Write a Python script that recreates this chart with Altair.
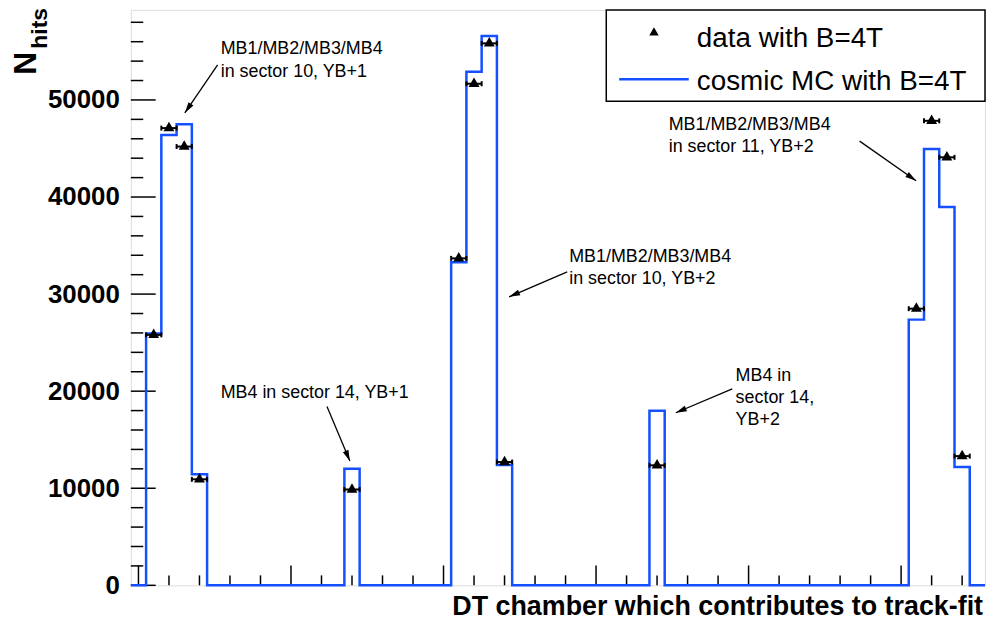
import math
import altair as alt
import pandas as pd

# ---------------- data ----------------
mc_bins = [1, 2, 3, 4, 14, 21, 22, 23, 24, 34, 51, 52, 53, 54]
mc_counts = [25950, 46400, 47500, 11430, 12020, 33270, 52900, 56580, 12400, 17990,
             27370, 44940, 38970, 12180]
data_bins = [1, 2, 3, 4, 14, 21, 22, 23, 24, 34, 51, 52, 53, 54]
data_counts = [25800, 47100, 45200, 10920, 9870, 33680, 51670, 55830, 12700, 12360,
               28500, 47850, 44090, 13310]
n_bins = 56
x_range = [-0.5, 55.5]
y_max = 59275

y_major_ticks = [0, 10000, 20000, 30000, 40000, 50000]
y_minor_ticks = [v for v in range(2000, 58001, 2000) if v % 10000]
x_major_ticks = [0, 10, 20, 30, 40, 50]
x_minor_ticks = [v for v in range(2, 55, 2) if v % 10]

x_title = "DT chamber which contributes to track-fit"
y_title_main = "N"
y_title_sub = "hits"
legend_labels = ["data with B=4T", "cosmic MC with B=4T"]

annot_texts = ["MB1/MB2/MB3/MB4\nin sector 10, YB+1",
               "MB4 in sector 14, YB+1",
               "MB1/MB2/MB3/MB4\nin sector 10, YB+2",
               "MB4 in\nsector 14,\nYB+2",
               "MB1/MB2/MB3/MB4\nin sector 11, YB+2"]
annot_x = [5.39, 5.39, 28.24, 39.15, 34.76]
annot_y = [54700, 19320, 33300, 21090, 46940]
arrow_x1 = [5.19, 12.36, 28.11, 38.93, 47.28]
arrow_y1 = [53610, 18430, 32280, 20240, 45760]
arrow_x2 = [3.04, 13.86, 24.30, 35.23, 50.98]
arrow_y2 = [48660, 12800, 29720, 17780, 41670]

# ---------------- layout / style ----------------
W, H = 859.5, 579
FONT = "Liberation Sans"
BLUE = "#1450ff"
PXX = W / (x_range[1] - x_range[0])
PXY = H / y_max

xs = alt.Scale(domain=x_range, nice=False, zero=False)
ys = alt.Scale(domain=[0, y_max], nice=False, zero=False)
yaxis = alt.Axis(values=y_major_ticks, format="d", labelFont=FONT, labelFontSize=26,
                 labelFontWeight="bold", labelColor="black", labelPadding=11.6,
                 ticks=False, tickSize=0, domain=False, grid=False, title="")


def X(f):
    return alt.X(f, type="quantitative", scale=xs, axis=None)


def Y(f):
    return alt.Y(f, type="quantitative", scale=ys, axis=yaxis, title="")


# MC histogram outline
counts = [0] * n_bins
for b, c in zip(mc_bins, mc_counts):
    counts[b] = c
step_rows = []
for i in range(n_bins):
    step_rows.append({"i": 2 * i, "x": i - 0.5, "y": counts[i]})
    step_rows.append({"i": 2 * i + 1, "x": i + 0.5, "y": counts[i]})
step_df = pd.DataFrame(step_rows)

mc_line = alt.Chart(step_df).mark_line(color=BLUE, strokeWidth=2.5, strokeJoin="miter").encode(
    x=X("x"), y=Y("y"), order=alt.Order("i:Q"))

# data points
pts_df = pd.DataFrame({"x": data_bins, "y": data_counts})
pts_df["lo"] = pts_df["x"] - 0.5
pts_df["hi"] = pts_df["x"] + 0.5
caps_df = pd.DataFrame({"x": list(pts_df["lo"]) + list(pts_df["hi"]),
                        "y": list(pts_df["y"]) * 2})

err = alt.Chart(pts_df).mark_rule(color="black", strokeWidth=2).encode(
    x=X("lo"), x2="hi", y=Y("y"))
caps = alt.Chart(caps_df).mark_point(shape="M0,-1L0,1", size=25, strokeWidth=2,
                                     filled=False, color="black", opacity=1).encode(
    x=X("x"), y=Y("y"))
tri = alt.Chart(pts_df).mark_point(shape="triangle", size=120, filled=True,
                                   color="black", opacity=1).encode(x=X("x"), y=Y("y"))

# inward ticks
ymaj = alt.Chart(pd.DataFrame({"y": y_major_ticks})).mark_rule(color="black", strokeWidth=1.5).encode(
    y=Y("y"), x=alt.value(0), x2=alt.value(25))
ymin = alt.Chart(pd.DataFrame({"y": y_minor_ticks})).mark_rule(color="black", strokeWidth=1.5).encode(
    y=Y("y"), x=alt.value(0), x2=alt.value(12.5))
xmaj = alt.Chart(pd.DataFrame({"x": x_major_ticks})).mark_rule(color="black", strokeWidth=1.5).encode(
    x=X("x"), y=alt.value(H), y2=alt.value(H - 20))
xmin = alt.Chart(pd.DataFrame({"x": x_minor_ticks})).mark_rule(color="black", strokeWidth=1.5).encode(
    x=X("x"), y=alt.value(H), y2=alt.value(H - 10))

# annotations
ann_df = pd.DataFrame({"t": annot_texts, "x": annot_x, "y": annot_y})
ann = alt.Chart(ann_df).mark_text(align="left", baseline="alphabetic", lineBreak="\n",
                                  lineHeight=22.5, font=FONT, fontSize=18, color="black").encode(
    x=X("x"), y=Y("y"), text="t:N")

arr_df = pd.DataFrame({"x1": arrow_x1, "y1": arrow_y1, "x2": arrow_x2, "y2": arrow_y2})
arr_df["ang"] = [
    math.degrees(math.atan2((bx - ax) * PXX, (by - ay) * PXY)) % 360
    for ax, ay, bx, by in zip(arrow_x1, arrow_y1, arrow_x2, arrow_y2)
]
arr_lines = alt.Chart(arr_df).mark_rule(color="black", strokeWidth=1.3).encode(
    x=X("x1"), y=Y("y1"), x2="x2", y2="y2")
arr_heads = alt.Chart(arr_df).mark_point(shape="M0,0L-0.55,2L0.55,2Z", size=121, filled=True,
                                         color="black", opacity=1).encode(
    x=X("x2"), y=Y("y2"), angle=alt.Angle("ang:Q", scale=None))

# legend
one = pd.DataFrame({"a": [0]})
leg_box = alt.Chart(one).mark_rect(fill="white", stroke="black", strokeWidth=1.5).encode(
    x=alt.value(478.4), x2=alt.value(W), y=alt.value(0), y2=alt.value(92))
leg_tri = alt.Chart(one).mark_point(shape="triangle", size=90, filled=True, color="black",
                                    opacity=1).encode(x=alt.value(526.4), y=alt.value(23))
leg_line = alt.Chart(one).mark_rule(color=BLUE, strokeWidth=2.5).encode(
    x=alt.value(491.4), x2=alt.value(561.4), y=alt.value(69.7))
leg_txt = alt.Chart(pd.DataFrame({"t": legend_labels, "py": [37, 81]})).mark_text(
    align="left", baseline="alphabetic", font=FONT, fontSize=28, color="black").encode(
    x=alt.value(569.5), y=alt.Y("py:Q", scale=None), text="t:N")

# axis titles
xt = alt.Chart(pd.DataFrame({"t": [x_title]})).mark_text(
    align="right", baseline="alphabetic", font=FONT, fontSize=27, fontWeight="bold",
    color="black").encode(x=alt.value(W - 2), y=alt.value(H + 30), text="t:N")
yt_n = alt.Chart(pd.DataFrame({"t": [y_title_main]})).mark_text(
    align="left", baseline="alphabetic", angle=270, font=FONT, fontSize=32, fontWeight="bold",
    color="black").encode(x=alt.value(-95.6), y=alt.value(65.3), text="t:N")
yt_s = alt.Chart(pd.DataFrame({"t": [y_title_sub]})).mark_text(
    align="left", baseline="alphabetic", angle=270, font=FONT, fontSize=23, fontWeight="bold",
    color="black").encode(x=alt.value(-84.6), y=alt.value(39), text="t:N")

chart = alt.layer(
    ymin, ymaj, xmin, xmaj, mc_line, err, caps, tri, arr_lines, arr_heads, ann,
    leg_box, leg_tri, leg_line, leg_txt, xt, yt_n, yt_s
).properties(
    width=W, height=H,
    padding={"left": 123.6, "top": 0, "right": 1, "bottom": 38},
    autosize="none",
).configure_view(stroke="black", strokeWidth=1.5).configure(font=FONT, background="white")

chart.save("out.html", embed_options={"renderer": "svg", "actions": False})
